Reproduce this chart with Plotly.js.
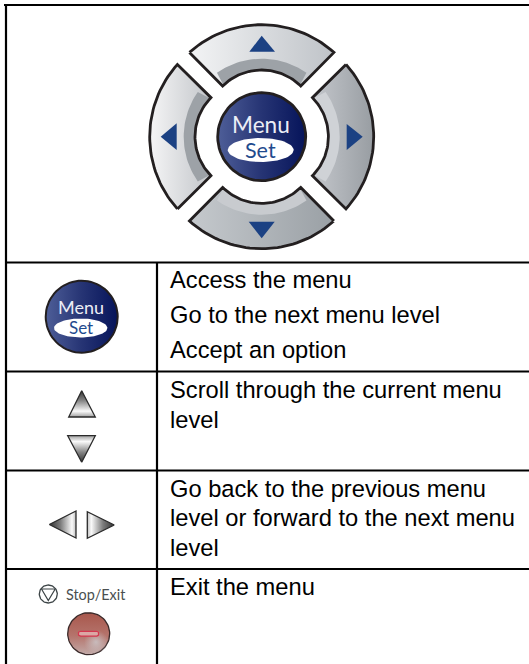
<!DOCTYPE html>
<html><head><meta charset="utf-8">
<script src="https://cdn.plot.ly/plotly-3.0.1.min.js"></script>
<style>html,body{margin:0;padding:0;background:#fff}#c{width:529px;height:664px}</style>
</head><body><div id="c"></div>
<script>
// ---- content ----
const rowTexts = ["Access the menu","Go to the next menu level","Accept an option",
  "Scroll through the current menu","level",
  "Go back to the previous menu","level or forward to the next menu","level",
  "Exit the menu"];
const rowBaselines = [288,323.5,358.5,398.5,428,497,526.5,556,595];
const tableH = [[4,529,5],[5,529,262.5],[5,529,371.5],[5,529,470.5],[5,529,569]];
const tableV = [[6,4,664],[157,262.5,664]];
const padSpecs = [
  {mid:0,  band:"#9da2a7", cs:["#f3f4f5","#bfc3c8"]},
  {mid:270,band:"#9da2a7", cs:["#f5f5f6","#c2c5c9"]},
  {mid:90, band:"#cfd2d6", cs:["#c4c7cc","#989da2"]},
  {mid:180,band:"#c8cbcf", cs:["#c5c9cd","#9aa0a5"]}
];
const arrowUp=[[261.7,249.3,275],[35.7,51.7,51.7]];
const arrowLeft=[[160.7,176.7,176.7],[136.7,123.3,150]];
const arrowRight=[[362.7,346.7,346.7],[136.7,124,150]];
const arrowDown=[[261.7,248.7,274.7],[238.3,221.7,221.7]];
const smallUp=[[81.7,68.7,95.3],[390.7,417,417]];
const smallDown=[[81.7,67.7,95.3],[462.3,435.7,435.7]];
const smallLeft=[[49.3,76,76],[524.5,511,538]];
const smallRight=[[114.3,87.3,87.3],[525,511.7,538.3]];
const stopTri=[[41.5,55.2,48.3],[589,589,600.5]];

const C=[261.7,136.7];
const traces=[], ann=[];
const rad=d=>d*Math.PI/180;
function arc(cx,cy,rf,a0,a1,n){const X=[],Y=[];for(let i=0;i<=n;i++){const a=a0+(a1-a0)*i/n;const r=typeof rf==='function'?rf((a)):rf;X.push(cx+r*Math.sin(rad(a)));Y.push(cy-r*Math.cos(rad(a)));}return [X,Y];}
function poly(X,Y,o){traces.push(Object.assign({type:'scatter',mode:'lines',x:X.concat(X[0]),y:Y.concat(Y[0]),fill:'toself',hoverinfo:'skip',showlegend:false,line:{width:o.w===undefined?0:o.w,color:o.lc||'rgba(0,0,0,0)'}},o.grad?{fillgradient:{type:o.grad,colorscale:o.cs}}:{fillcolor:o.fc}));}
function ell(cx,cy,rx,ry,o){const X=[],Y=[];for(let i=0;i<72;i++){X.push(cx+rx*Math.cos(rad(i*5)));Y.push(cy+ry*Math.sin(rad(i*5)));}poly(X,Y,o);}
const scale=(a,b)=>[[0,a],[1,b]];

// table rules
tableH.forEach(l=>traces.push({type:'scatter',mode:'lines',x:[l[0],l[1]],y:[l[2],l[2]],line:{color:'#000',width:2.2},hoverinfo:'skip',showlegend:false}));
tableV.forEach(l=>traces.push({type:'scatter',mode:'lines',x:[l[0],l[0]],y:[l[1],l[2]],line:{color:'#000',width:2.2},hoverinfo:'skip',showlegend:false}));

// d-pad
padSpecs.forEach(p=>{
  const ro=a=>112-1*Math.pow((a-p.mid)/40.6,2);
  const ri=a=>66.7-2.7*Math.pow((a-p.mid)/37.6,2);
  const o=arc(C[0],C[1],ro,p.mid-40.6,p.mid+40.6,40);
  const i=arc(C[0],C[1],ri,p.mid+37.6,p.mid-37.6,40);
  poly(o[0].concat(i[0]),o[1].concat(i[1]),{grad:'horizontal',cs:scale(p.cs[0],p.cs[1])});
  const bo=arc(C[0],C[1],78,p.mid-35,p.mid+35,30);
  const bi=arc(C[0],C[1],ri,p.mid+36.5,p.mid-36.5,30);
  poly(bo[0].concat(bi[0]),bo[1].concat(bi[1]),{fc:p.band});
  poly(o[0].concat(i[0]),o[1].concat(i[1]),{fc:'rgba(0,0,0,0)',w:2.8,lc:'#231f20'});
});
[arrowUp,arrowLeft,arrowRight,arrowDown].forEach(t=>poly(t[0],t[1],{fc:'#1b4183'}));

// menu buttons
function menuButton(cx,cy,r,ey,erx,ery,lw,menuSize,setSize,menuY,setY){
  ell(cx,cy,r,r,{grad:'horizontal',cs:[[0,'#4e5e98'],[0.5,'#263474'],[1,'#06145a']],w:lw,lc:'#231f20'});
  ell(cx-1,ey,erx,ery,{fc:'#ffffff'});
  ann.push({x:cx-1,y:menuY,text:'Menu',font:{family:'Lato',size:menuSize,color:'#eceef6'}});
  ann.push({x:cx-1,y:setY,text:'Set',font:{family:'Lato',size:setSize,color:'#1f4b8e'}});
}
menuButton(261.7,136.7,44,150,33,12,2.8,22.6,21.5,124,150);
menuButton(81.7,316.7,36,328,26.7,9.5,2,18,17,307,327.5);

// small triangles (vertical gradients run from the lower edge upward)
[[smallUp,'vertical',[[0,'#a0a0a0'],[0.22,'#fafafa'],[0.62,'#858585'],[1,'#333333']]],
 [smallDown,'vertical',[[0,'#333333'],[0.38,'#858585'],[0.78,'#fafafa'],[1,'#a0a0a0']]],
 [smallLeft,'horizontal',[[0,'#333333'],[0.42,'#7c7c7c'],[0.85,'#fafafa'],[1,'#c0c0c0']]],
 [smallRight,'horizontal',[[0,'#c0c0c0'],[0.15,'#fafafa'],[0.58,'#7c7c7c'],[1,'#333333']]]
].forEach(t=>poly(t[0][0],t[0][1],{grad:t[1],cs:t[2],w:1.3,lc:'#2a2a2a'}));

// stop / exit
ell(48.3,594,9,9,{fc:'rgba(255,255,255,0)',w:1.3,lc:'#3c4446'});
poly(stopTri[0],stopTri[1],{fc:'rgba(255,255,255,0)',w:1.2,lc:'#3c4446'});
ann.push({x:96,y:594.5,text:'Stop/Exit',font:{family:'Lato',size:14.4,color:'#4a4f50'}});
ell(88.7,633.7,21,21,{grad:'vertical',cs:[[0,'#c2aaa8'],[0.45,'#b5746c'],[1,'#a8574c']],w:1.3,lc:'#3a2a2a'});
ell(96,642,12,12,{grad:'radial',cs:[[0,'rgba(205,205,208,0.75)'],[1,'rgba(205,205,208,0)']]});
{const X=[80.5,96.9,98.5,98.5,96.9,80.5,78.5,78.5],Y=[631.3,631.3,632.3,635.1,636.1,636.1,635.1,632.3];
 poly(X,Y,{fc:'#dba7a5',w:1.2,lc:'#d4374f'});}

// row text
rowTexts.forEach((t,i)=>ann.push({x:168.5,y:rowBaselines[i]-8.5,text:t,xanchor:'left',font:{family:'Liberation Sans',size:23.7,color:'#000'}}));

Plotly.newPlot('c',traces,{
  width:529,height:664,margin:{l:0,r:0,t:0,b:0,pad:0},
  paper_bgcolor:'#fff',plot_bgcolor:'#fff',showlegend:false,
  xaxis:{range:[0,529],visible:false,fixedrange:true},
  yaxis:{range:[664,0],visible:false,fixedrange:true},
  annotations:ann.map(a=>Object.assign({xref:'x',yref:'y',showarrow:false,xanchor:'center',yanchor:'middle',borderpad:0},a))
},{displayModeBar:false,staticPlot:true});
</script></body></html>
